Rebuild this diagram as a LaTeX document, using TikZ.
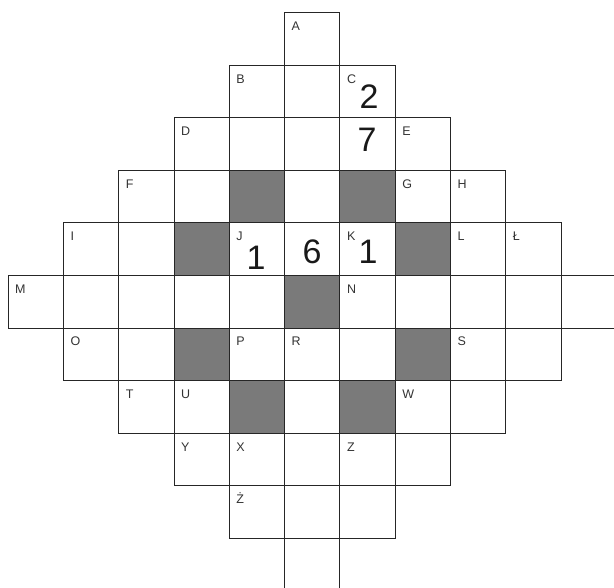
\documentclass[tikz,border=0pt]{standalone}
\usepackage{fontspec}
\setmainfont{Liberation Sans}
\begin{document}
\begin{tikzpicture}[x=1pt,y=-1pt,
  cellline/.style={draw=black!85, line width=0.8pt},
  darkcell/.style={fill=black!52},
  lbl/.style={font=\fontsize{12.5}{14}\selectfont, text=black!80, inner sep=0pt, anchor=base west},
  hand/.style={font=\fontsize{34}{36}\selectfont, text=black!90, inner sep=0pt, anchor=center}]
\useasboundingbox (0,0) rectangle (614,588);
\clip (0,0) rectangle (614,588);
\def\cw{55.3}\def\ch{52.55}\def\ox{8}\def\oy{12.7}
% shaded cells
\foreach \r/\c in {3/4,3/6,4/3,4/7,5/5,6/3,6/7,7/4,7/6}
  \fill[darkcell] ({\ox+\c*\cw},{\oy+\r*\ch}) rectangle ++(\cw,\ch);
% grid
\foreach \r/\a/\b in {0/5/5,1/4/6,2/3/7,3/2/8,4/1/9,5/0/10,6/1/9,7/2/8,8/3/7,9/4/6,10/5/5}
  \foreach \c in {\a,...,\b}
    \draw[cellline] ({\ox+\c*\cw},{\oy+\r*\ch}) rectangle ++(\cw,\ch);
% labels
\foreach \t/\r/\c in {A/0/5,B/1/4,C/1/6,D/2/3,E/2/7,F/3/2,G/3/7,H/3/8,I/4/1,J/4/4,K/4/6,L/4/8,Ł/4/9,M/5/0,N/5/6,O/6/1,P/6/4,R/6/5,S/6/8,T/7/2,U/7/3,W/7/7,Y/8/3,X/8/4,Z/8/6,Ż/9/4}
  \node[lbl] (l\t) at ({\ox+\c*\cw+7},{\oy+\r*\ch+18}) {\t};
% handwritten digits
\node[hand] (d2) at (369,97) {2};
\node[hand] (d7) at (367,140) {7};
\node[hand] (dJ) at (256,258) {1};
\node[hand] (d6) at (312,252) {6};
\node[hand] (dK) at (368,252) {1};
\end{tikzpicture}
\end{document}
